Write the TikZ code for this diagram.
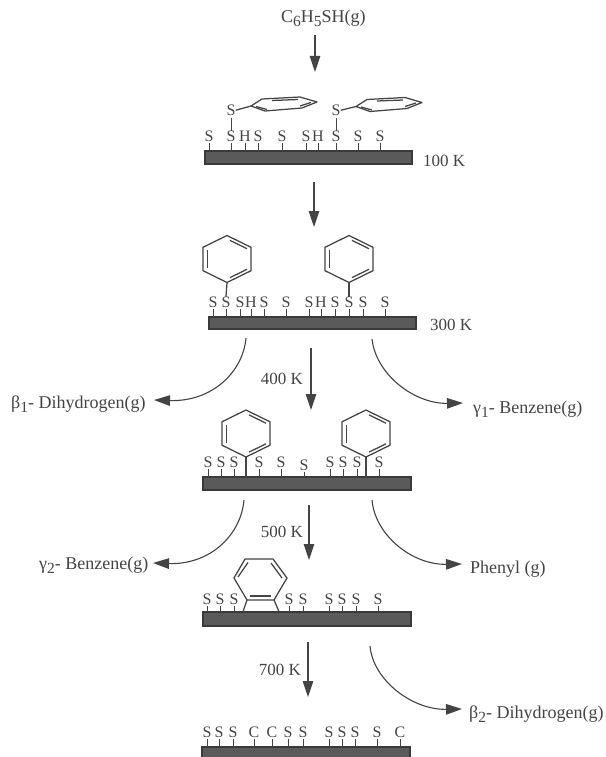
\documentclass[tikz,border=0pt]{standalone}
\usepackage{fontspec}
\setmainfont{Liberation Serif}
\usetikzlibrary{arrows.meta}
\definecolor{ink}{HTML}{444444}
\definecolor{barfill}{HTML}{5A5A5A}
\definecolor{baredge}{HTML}{3A3A3A}
\newcommand{\sbs}[1]{\raisebox{-4pt}{\fontsize{15.5}{15.5}\selectfont #1}}
\tikzset{
  bigtext/.style={inner sep=0pt,anchor=base west,text=ink,font=\fontsize{18}{18}\selectfont},
  temptext/.style={inner sep=0pt,anchor=base west,text=ink,font=\fontsize{17}{17}\selectfont},
  sitelabel/.style={inner sep=0pt,anchor=base,text=ink,font=\fontsize{16}{16}\selectfont},
  surface/.style={draw=baredge,fill=barfill,line width=1.2pt},
  sitetick/.style={draw=ink,line width=0.9pt},
  bond/.style={draw=ink,line width=1.25pt,line join=round},
  flow/.style={draw=ink,line width=1.1pt,-{Triangle[length=16pt,width=10.5pt]}},
}
% upright phenyl ring centred at #1
\newcommand{\upring}[1]{%
  \begin{scope}[shift={(#1)}]
    \draw[bond] (0,-23.5) -- (24,-11.7) -- (24,11.7) -- (0,23.5) -- (-24,11.7) -- (-24,-11.7) -- cycle;
    \draw[bond] (-19.5,-9) -- (-19.5,9);
    \draw[bond] (3,-18.6) -- (20,-10.3);
    \draw[bond] (20,10.3) -- (3,18.6);
  \end{scope}}
% flat phenyl ring
\newcommand{\flatring}[1]{%
  \begin{scope}[shift={(#1)}]
    \draw[bond] (251,106) -- (262,99) -- (300,97) -- (317,102) -- (302,108) -- (265,111) -- cycle;
    \draw[bond] (272,100.5) -- (298,99.5);
    \draw[bond] (256,106.5) -- (267,109.5);
    \draw[bond] (300,106) -- (311,102.5);
  \end{scope}}
\begin{document}
\begin{tikzpicture}[x=1pt,y=-1pt]
\useasboundingbox (0,0) rectangle (605,757);
\fill[white] (0,0) rectangle (605,757);

% bars
\draw[surface] (205,151) rectangle (412,164);
\draw[surface] (209,317) rectangle (416,329);
\draw[surface] (203,477) rectangle (411,490);
\draw[surface] (203,612) rectangle (411,626);
\draw[surface] (202,747) rectangle (410,760);

% layer 1
\foreach \x/\t in {209/S,231/S,245/H,258/S,282/S,306/S,318/H,336/S,358/S,380/S}{
  \node[sitelabel] (a\x) at (\x,141.5) {\t};
  \draw[sitetick] (a\x.south) ++(0,1) -- (\x,151);
}
\node[sitelabel] (aup1) at (231,115.5) {S};
\node[sitelabel] (aup2) at (336,115.5) {S};
\draw[sitetick] (aup1.south) ++(0,2) -- (a231.north);
\draw[sitetick] (aup2.south) ++(0,2) -- (a336.north);
\flatring{0,0}
\flatring{105,0.5}
\draw[bond] (aup1.east) -- (251,106);
\draw[bond] (aup2.east) -- (356,106.5);

% layer 2
\foreach \x/\t in {213/S,226/S,240/S,251/H,264/S,286/S,309/S,321/H,335/S,349/S,363/S,385/S}{
  \node[sitelabel] (b\x) at (\x,307.5) {\t};
  \draw[sitetick] (b\x.south) ++(0,1) -- (\x,317);
}
\upring{227,259}
\upring{349,259}
\draw[bond] (227,282.5) -- (b226.north);
\draw[bond] (349,282.5) -- (b349.north);

% layer 3
\foreach \x/\t in {208/S,221/S,234/S,259/S,281/S,330/S,343/S,357/S,379/S}{
  \node[sitelabel] (c\x) at (\x,467.5) {\t};
  \draw[sitetick] (c\x.south) ++(0,1) -- (\x,477);
}
\node[sitelabel] (c304) at (304,470.5) {S};
\draw[sitetick] (c304.south) ++(0,1) -- (304,477);
\upring{246,433.5}
\upring{366,433.5}
\draw[bond] (246,457) -- (246,477);
\draw[bond] (366,457) -- (366,477);

% layer 4
\foreach \x/\t in {207/S,220/S,234/S,289/S,303/S,329/S,342/S,356/S,378/S}{
  \node[sitelabel] (d\x) at (\x,604.5) {\t};
  \draw[sitetick] (d\x.south) ++(0,1) -- (\x,612);
}
\draw[bond] (245,559) -- (273,559) -- (287,578) -- (274,600) -- (247,600) -- (234,578) -- cycle;
\draw[bond] (248,562.5) -- (238,577);
\draw[bond] (271,563) -- (282,578);
\draw[bond] (250,596) -- (271,596);
\draw[bond] (247,600) -- (243,611.5);
\draw[bond] (274,600) -- (279,611.5);

% layer 5
\foreach \x/\t in {207/S,219/S,233/S,254/C,272/C,288/S,303/S,329/S,342/S,355/S,377/S,400/C}{
  \node[sitelabel] (e\x) at (\x,737.5) {\t};
  \draw[sitetick] (e\x.south) ++(0,1) -- (\x,747);
}

% texts
\node[bigtext] (feed) at (281,23) {C\sbs{6}H\sbs{5}SH(g)};
\node[temptext] (t100) at (423,166) {100 K};
\node[temptext] (t300) at (430,330) {300 K};
\node[temptext,anchor=base east] (t400) at (303,384) {400 K};
\node[temptext,anchor=base east] (t500) at (303,537) {500 K};
\node[temptext,anchor=base east] (t700) at (301,675) {700 K};
\node[bigtext] (beta1) at (11,408) {β\sbs{1}- Dihydrogen(g)};
\node[bigtext] (gamma1) at (473,413) {γ\sbs{1}- Benzene(g)};
\node[bigtext] (gamma2) at (39,569) {γ\sbs{2}- Benzene(g)};
\node[bigtext] (phenyl) at (470,573) {Phenyl (g)};
\node[bigtext] (beta2) at (469,718) {β\sbs{2}- Dihydrogen(g)};

% arrow ends
\coordinate (s1) at (315,35);   \coordinate (e1) at (315,72);
\coordinate (s2) at (314,182);  \coordinate (e2) at (314,227);
\coordinate (s3) at (311,348);  \coordinate (e3) at (311,410);
\coordinate (s4) at (309,505);  \coordinate (e4) at (309,560);
\coordinate (s5) at (308,642);  \coordinate (e5) at (308,697);
\coordinate (l1) at (246,338);  \coordinate (r1) at (372,339);
\coordinate (l2) at (244,500);  \coordinate (r2) at (372,500);
\coordinate (r3) at (370,646);

\draw[flow] (s1) -- (e1);
\draw[flow] (s2) -- (e2);
\draw[flow] (s3) -- (e3);
\draw[flow] (s4) -- (e4);
\draw[flow] (s5) -- (e5);
\draw[flow] (l1) .. controls (243,372) and (212,402) .. (154,400);
\draw[flow] (r1) .. controls (376,375) and (415,404) .. (463,403);
\draw[flow] (l2) .. controls (241,535) and (210,565) .. (153,563);
\draw[flow] (r2) .. controls (375,535) and (412,565) .. (462,564);
\draw[flow] (r3) .. controls (373,680) and (412,710) .. (462,709);
\end{tikzpicture}
\end{document}
